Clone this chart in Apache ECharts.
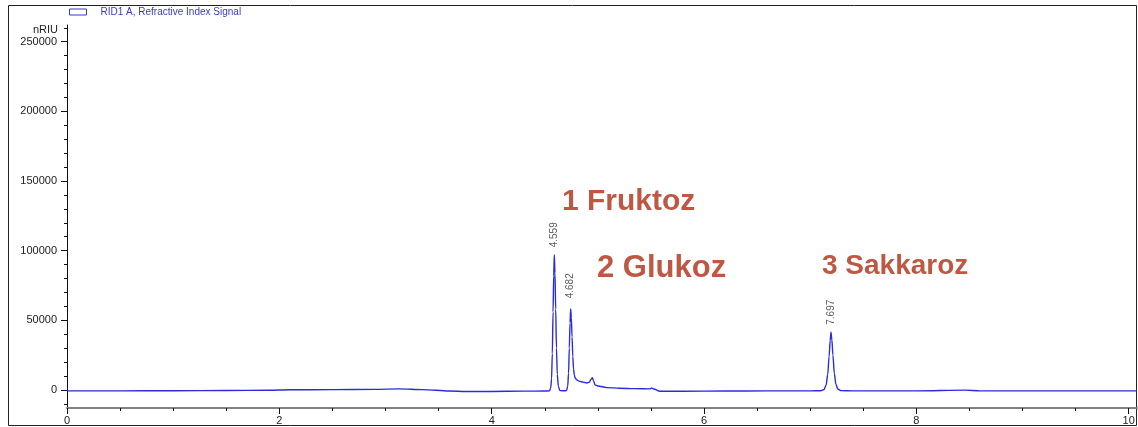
<!DOCTYPE html>
<html>
<head>
<meta charset="utf-8">
<script src="https://cdn.jsdelivr.net/npm/echarts@6/dist/echarts.min.js"></script>
<style>
html,body{margin:0;padding:0;background:#fff;}
#chart{width:1138px;height:427px;}
</style>
</head>
<body>
<div id="chart"></div>
<script>
// ---- data ----
const seriesName = 'RID1 A, Refractive Index Signal';
const yUnit = 'nRIU';
const times = [
  0.00, 0.50, 1.00, 1.50, 1.90, 2.10, 2.50, 2.90, 3.13, 3.35, 3.60, 3.76, 4.00, 4.30, 4.50,
  4.545, 4.556, 4.564, 4.571, 4.578, 4.584, 4.590, 4.596, 4.603, 4.610, 4.618, 4.628, 4.642, 4.665, 4.692,
  4.705, 4.716, 4.724, 4.731, 4.738, 4.744, 4.750, 4.757, 4.764, 4.771, 4.778, 4.786, 4.800, 4.816, 4.850,
  4.895, 4.920, 4.935, 4.948, 4.960, 4.973, 5.000, 5.083, 5.200, 5.350, 5.490, 5.507, 5.525,
  5.585, 5.800, 6.200, 6.600, 7.000, 7.100, 7.130, 7.150, 7.165, 7.178, 7.188, 7.196, 7.204,
  7.214, 7.227, 7.242, 7.260, 7.290, 7.400, 8.000, 8.460, 8.600, 9.000, 9.500, 10.078
];
const signal = [
  -700, -700, -600, -400, -300, 100, 200, 400, 700, 200, -800, -1200, -1100, -900, -800,
  -700, 1500, 8000, 26000, 56000, 82000, 97000, 84000, 58000, 30000, 11000, 2500, -400, -600, -600,
  -400, 2500, 12000, 30000, 48000, 58200, 52000, 38000, 24000, 15000, 10800, 8500, 7300, 6500, 5700,
  5000, 5500, 7500, 8800, 6500, 3600, 2800, 1650, 1200, 900, 700, 1400, 600,
  -1000, -1000, -800, -700, -700, -600, 300, 3500, 11000, 24000, 35500, 41400, 36000,
  25000, 12000, 4000, 600, -500, -700, -700, -200, -700, -700, -700, -700
];
const peakTimes   = [4.590, 4.744, 7.196];
const peakHeights = [97000, 58200, 41400];
const peakLabels  = ['4.559', '4.682', '7.697'];
const compoundNames = ['1 Fruktoz', '2 Glukoz', '3 Sakkaroz'];
const yTickLabels = [0, 50000, 100000, 150000, 200000, 250000];
const xTickLabels = [0, 2, 4, 6, 8, 10];

// ---- chart ----
const FONT = "'Liberation Sans', Arial, sans-serif";
const lineData = times.map((t, i) => [t, signal[i]]);
const peakGaps = [7, 10, 7];
const peakData = peakTimes.map((t, i) => ({
  value: [t, peakHeights[i]],
  name: peakLabels[i],
  label: { distance: peakGaps[i] }
}));
const nameLayout = [[562, 202, 30], [597, 268, 31], [822, 266, 28]];

const chart = echarts.init(document.getElementById('chart'), null, { renderer: 'canvas' });
chart.setOption({
  animation: false,
  backgroundColor: '#ffffff',
  textStyle: { fontFamily: FONT },
  grid: { left: 67, right: 1, top: 25, bottom: 19, containLabel: false },
  legend: {
    left: 69, top: 7, padding: 0,
    data: [seriesName],
    icon: 'rect',
    itemWidth: 17, itemHeight: 6,
    itemStyle: { color: 'rgba(0,0,0,0)', borderColor: '#3a3ac8', borderWidth: 1 },
    textStyle: { color: '#3a3ac8', fontSize: 10, fontFamily: FONT, padding: [0, 0, 0, 9] },
    selectedMode: false
  },
  xAxis: {
    type: 'value',
    min: 0, max: 10.078,
    splitNumber: 5,
    axisLine: { show: true, onZero: false, lineStyle: { color: '#808080', width: 2 } },
    axisTick: { show: true, length: 6, customValues: xTickLabels, lineStyle: { color: '#111', width: 1 } },
    minorTick: { show: true, splitNumber: 4, length: 3, lineStyle: { color: '#111', width: 1 } },
    splitLine: { show: false },
    axisLabel: {
      color: '#222', fontSize: 11, fontFamily: FONT, margin: 7,
      customValues: xTickLabels,
      formatter: v => String(Math.round(v))
    }
  },
  yAxis: {
    type: 'value',
    min: -13000, max: 262000,
    splitNumber: 5,
    axisLine: { show: true, onZero: false, lineStyle: { color: '#111', width: 1 } },
    axisTick: { show: true, length: 6, customValues: yTickLabels, lineStyle: { color: '#111', width: 1 } },
    minorTick: { show: true, splitNumber: 5, length: 3, lineStyle: { color: '#111', width: 1 } },
    splitLine: { show: false },
    axisLabel: {
      color: '#222', fontSize: 11, fontFamily: FONT, margin: 10,
      customValues: yTickLabels,
      formatter: v => String(v)
    }
  },
  series: [
    {
      name: seriesName,
      type: 'line',
      data: lineData,
      showSymbol: false,
      symbol: 'none',
      smooth: 0.3,
      smoothMonotone: 'x',
      lineStyle: { color: '#2b2bdc', width: 1.4 },
      itemStyle: { color: '#3a3ac8' },
      z: 3
    },
    {
      name: 'peaks',
      type: 'scatter',
      data: peakData,
      symbolSize: 1,
      itemStyle: { color: 'rgba(0,0,0,0)' },
      silent: true,
      label: {
        show: true,
        position: 'top',
        rotate: 90,
        align: 'left',
        verticalAlign: 'middle',
        formatter: p => p.name,
        color: '#333',
        fontSize: 10,
        fontFamily: FONT
      },
      z: 4
    }
  ],
  graphic: [
    {
      type: 'rect',
      shape: { x: 8.5, y: 5.5, width: 1128, height: 420 },
      style: { fill: 'none', stroke: '#222', lineWidth: 1 },
      silent: true, z: 0
    },
    {
      type: 'text',
      x: 58, y: 30,
      style: { text: yUnit, fill: '#222', font: '11px ' + FONT, textAlign: 'right', textVerticalAlign: 'middle' },
      silent: true
    }
  ].concat(compoundNames.map((n, i) => ({
    type: 'text',
    x: nameLayout[i][0], y: nameLayout[i][1],
    style: {
      text: n, fill: '#bf5843',
      font: 'bold ' + nameLayout[i][2] + 'px ' + FONT,
      textAlign: 'left', textVerticalAlign: 'middle'
    },
    silent: true
  })))
});
</script>
</body>
</html>
